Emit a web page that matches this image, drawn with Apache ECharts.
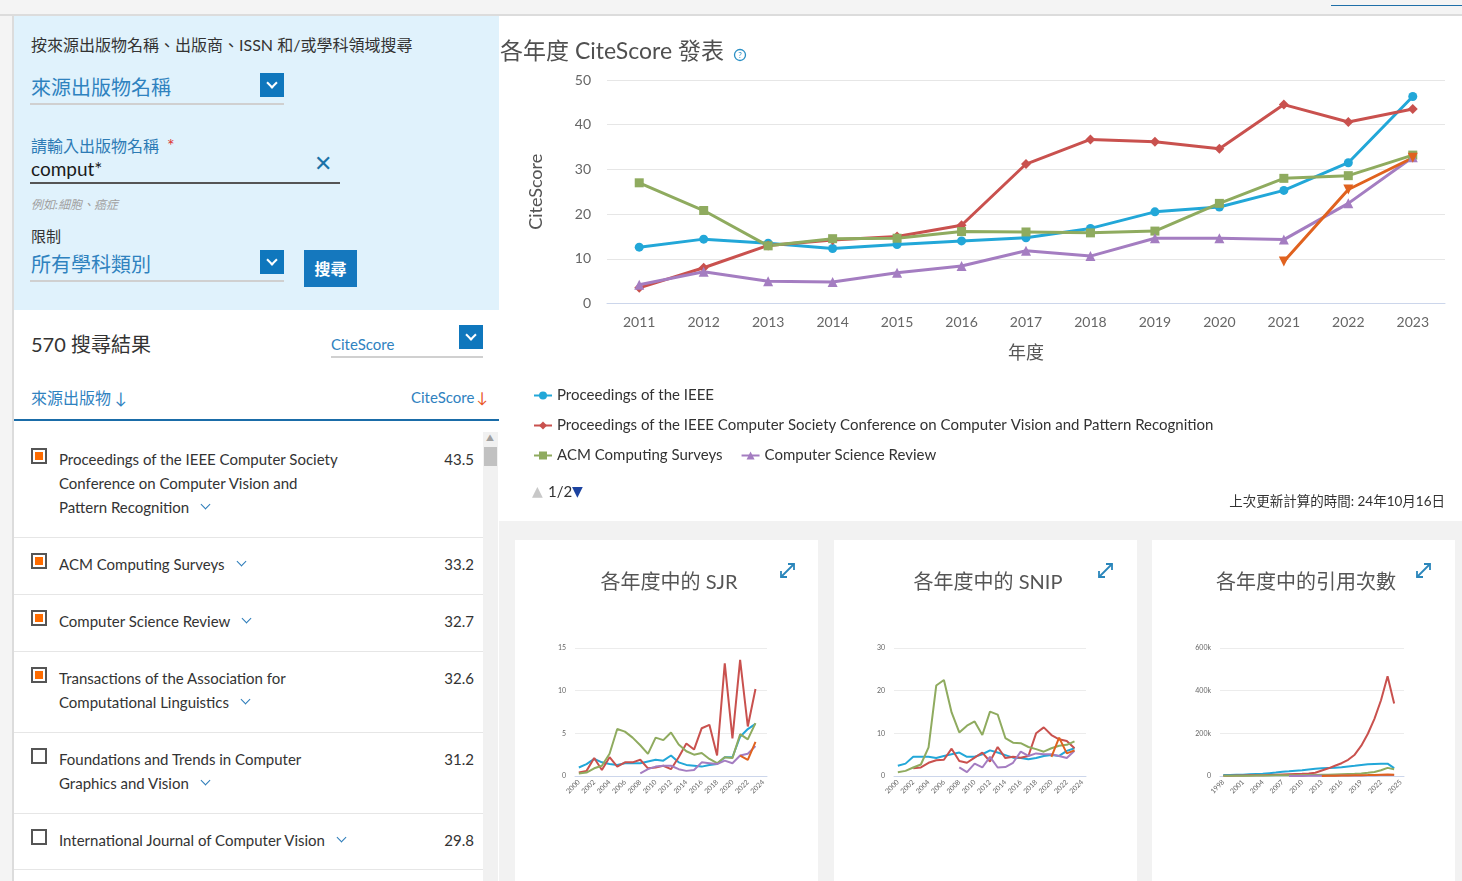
<!DOCTYPE html>
<html>
<head>
<meta charset="utf-8">
<script src="https://cdn.jsdelivr.net/npm/echarts/dist/echarts.min.js"></script>
<style>
  body { margin:0; width:1462px; height:881px; overflow:hidden; position:relative;
         background:#f2f2f2; font-family: Lato, "Noto Sans CJK TC", sans-serif; color:#333; }
  .abs { position:absolute; }
  .topbar { left:0; top:0; width:1462px; height:14px; background:#f4f4f4; border-bottom:2px solid #dcdcdc; }
  .topline { left:1331px; top:5px; width:131px; height:1px; background:#1f6fa8; }
  .leftstrip { left:0; top:16px; width:12px; height:865px; background:#f4f4f4; border-right:2px solid #dcdcdc; }
  .search { left:14px; top:16px; width:485px; height:294px; background:#e0f2fc; }
  .list { left:14px; top:310px; width:485px; height:571px; background:#fff; }
  .main { left:499px; top:16px; width:963px; height:505px; background:#fff; }
  .card { top:540px; width:303px; height:341px; background:#fff; }
  .blue { color:#2f82bf; }
  .ddbtn { width:24px; height:24px; background:#0f77bd; }
  .ddbtn::after { content:""; position:absolute; left:8px; top:6px; width:6px; height:6px;
                  border-right:2px solid #fff; border-bottom:2px solid #fff; transform:rotate(45deg); }
  .uline { height:2px; background:#d0d0d0; }
  .row { left:59px; font-size:15px; line-height:24px; color:#333; white-space:nowrap; }
  .val { left:400px; width:74px; text-align:right; font-size:15px; line-height:24px; color:#333; }
  .cb { left:31px; width:12px; height:12px; border:2px solid #555; background:#fff; }
  .cb.on::after { content:""; position:absolute; left:2px; top:2px; width:8px; height:8px; background:#ff6c00; }
  .chev { display:inline-block; width:6px; height:6px; border-right:1.5px solid #2b7bb9; border-bottom:1.5px solid #2b7bb9;
          transform:rotate(45deg); margin-left:13px; position:relative; top:-5px; }
  .div { left:14px; width:469px; height:1px; background:#e6e6e6; }
  #chart { position:absolute; left:0; top:0; width:1462px; height:881px; z-index:5; pointer-events:none; }
</style>
</head>
<body>
<div class="abs topbar"></div>
<div class="abs topline"></div>
<div class="abs leftstrip"></div>
<div class="abs search"></div>
<div class="abs list"></div>
<div class="abs main"></div>
<div class="abs card" style="left:515px"></div>
<div class="abs card" style="left:834px"></div>
<div class="abs card" style="left:1152px"></div>

<!-- search form -->
<div class="abs" style="left:31px;top:32px;font-size:16px;color:#333">按來源出版物名稱、出版商、ISSN 和/或學科領域搜尋</div>
<div class="abs blue" style="left:31px;top:72px;font-size:20px">來源出版物名稱</div>
<div class="abs ddbtn" style="left:260px;top:73px"></div>
<div class="abs uline" style="left:30px;top:103px;width:254px"></div>
<div class="abs" style="left:31px;top:133px;font-size:16px;color:#2d7bb5">請輸入出版物名稱 <span style="color:#d33;margin-left:4px;font-size:18px">*</span></div>
<div class="abs" style="left:31px;top:157px;font-size:19px;color:#1a1a1a">comput*</div>
<div class="abs" style="left:314px;top:149px;font-size:22px;color:#1a73a8">✕</div>
<div class="abs" style="left:30px;top:182px;width:310px;height:2px;background:#555"></div>
<div class="abs" style="left:31px;top:195px;font-size:12px;color:#a0a0a0;font-style:italic">例如:細胞、癌症</div>
<div class="abs" style="left:31px;top:225px;font-size:15px;color:#333">限制</div>
<div class="abs blue" style="left:31px;top:249px;font-size:20px">所有學科類別</div>
<div class="abs ddbtn" style="left:260px;top:250px"></div>
<div class="abs uline" style="left:30px;top:280px;width:254px"></div>
<div class="abs" style="left:304px;top:250px;width:53px;height:37px;background:#1578be;color:#fff;font-size:16px;font-weight:bold;text-align:center;line-height:37px">搜尋</div>

<!-- result list -->
<div class="abs" style="left:31px;top:329px;font-size:20px;color:#333">570 搜尋結果</div>
<div class="abs blue" style="left:331px;top:335px;font-size:15px">CiteScore</div>
<div class="abs ddbtn" style="left:459px;top:325px"></div>
<div class="abs uline" style="left:331px;top:356px;width:152px"></div>
<div class="abs blue" style="left:31px;top:385px;font-size:16px">來源出版物 <span>↓</span></div>
<div class="abs blue" style="left:411px;top:388px;font-size:15px">CiteScore<span style="color:#e9541e;margin-left:2px">↓</span></div>
<div class="abs" style="left:14px;top:419px;width:485px;height:2px;background:#1a6ca8"></div>
<div class="abs" style="left:483px;top:432px;width:15px;height:449px;background:#f1f1f1"></div>
<div class="abs" style="left:484px;top:447px;width:13px;height:19px;background:#c1c1c1"></div>
<div class="abs" style="left:486px;top:432px;font-size:8px;color:#a0a0a0">▲</div>

<div class="abs cb on" style="top:448px"></div>
<div class="abs row" style="top:447px">Proceedings of the IEEE Computer Society<br>Conference on Computer Vision and<br>Pattern Recognition<span class="chev"></span></div>
<div class="abs val" style="top:447px">43.5</div>
<div class="abs div" style="top:537px"></div>

<div class="abs cb on" style="top:553px"></div>
<div class="abs row" style="top:552px">ACM Computing Surveys<span class="chev"></span></div>
<div class="abs val" style="top:552px">33.2</div>
<div class="abs div" style="top:594px"></div>

<div class="abs cb on" style="top:610px"></div>
<div class="abs row" style="top:609px">Computer Science Review<span class="chev"></span></div>
<div class="abs val" style="top:609px">32.7</div>
<div class="abs div" style="top:651px"></div>

<div class="abs cb on" style="top:667px"></div>
<div class="abs row" style="top:666px">Transactions of the Association for<br>Computational Linguistics<span class="chev"></span></div>
<div class="abs val" style="top:666px">32.6</div>
<div class="abs div" style="top:732px"></div>

<div class="abs cb" style="top:748px"></div>
<div class="abs row" style="top:747px">Foundations and Trends in Computer<br>Graphics and Vision<span class="chev"></span></div>
<div class="abs val" style="top:747px">31.2</div>
<div class="abs div" style="top:813px"></div>

<div class="abs cb" style="top:829px"></div>
<div class="abs row" style="top:828px">International Journal of Computer Vision<span class="chev"></span></div>
<div class="abs val" style="top:828px">29.8</div>
<div class="abs div" style="top:869px"></div>

<!-- expand icons -->
<svg class="abs" style="left:779px;top:562px" width="17" height="17"><g stroke="#2a86bb" stroke-width="1.8" fill="none"><path d="M2 15 L15 2"/><path d="M2 9 L2 15 L8 15"/><path d="M9 2 L15 2 L15 8"/></g></svg>
<svg class="abs" style="left:1097px;top:562px" width="17" height="17"><g stroke="#2a86bb" stroke-width="1.8" fill="none"><path d="M2 15 L15 2"/><path d="M2 9 L2 15 L8 15"/><path d="M9 2 L15 2 L15 8"/></g></svg>
<svg class="abs" style="left:1415px;top:562px" width="17" height="17"><g stroke="#2a86bb" stroke-width="1.8" fill="none"><path d="M2 15 L15 2"/><path d="M2 9 L2 15 L8 15"/><path d="M9 2 L15 2 L15 8"/></g></svg>

<div id="chart"></div>
<script>
// CiteScore by year
var years = ['2011','2012','2013','2014','2015','2016','2017','2018','2019','2020','2021','2022','2023'];
var ieeeCS = [12.6, 14.4, 13.5, 12.3, 13.2, 14.0, 14.7, 16.8, 20.5, 21.6, 25.3, 31.5, 46.3];
var cvprCS = [3.5, 8.0, 13.0, 14.2, 15.0, 17.5, 31.2, 36.7, 36.2, 34.6, 44.5, 40.6, 43.5];
var acmCS  = [27.0, 20.8, 12.9, 14.5, 14.6, 16.1, 16.0, 15.8, 16.2, 22.4, 28.0, 28.6, 33.2];
var csrCS  = [4.2, 7.1, 5.0, 4.8, 6.9, 8.4, 11.8, 10.6, 14.6, 14.6, 14.3, 22.4, 32.7];
var taclCS = [null, null, null, null, null, null, null, null, null, null, 9.4, 25.5, 32.6];

// SJR by year (2000-2023, axis to 2024)
var sjrYears = ['2000','2001','2002','2003','2004','2005','2006','2007','2008','2009','2010','2011','2012',
                '2013','2014','2015','2016','2017','2018','2019','2020','2021','2022','2023','2024'];
var ieeeSJR = [1.0,1.4,2.0,1.6,1.4,1.3,1.5,1.5,1.5,1.7,1.9,1.8,2.4,1.6,1.3,1.2,1.1,1.3,1.4,2.2,2.2,4.6,5.5,6.1];
var cvprSJR = [0.4,0.6,2.1,0.7,2.2,1.1,1.6,1.6,1.9,0.9,1.0,1.2,0.8,2.2,3.8,3.1,5.6,6.0,2.4,13.2,4.4,13.6,5.8,10.2];
var acmSJR  = [0.3,0.4,0.9,1.2,2.6,5.5,5.2,4.5,3.6,2.6,4.5,4.2,5.1,3.7,2.9,2.5,2.7,2.0,1.5,2.2,2.1,4.9,4.3,6.2];
var csrSJR  = [null,null,null,null,null,null,null,null,0.3,0.8,1.1,1.2,1.2,0.8,0.6,0.7,1.6,1.5,1.4,1.8,1.5,2.4,2.6,3.5];
var taclSJR = [null,null,null,null,null,null,null,null,null,null,null,null,null,null,null,null,null,null,null,null,null,2.4,1.9,4.0];

// SNIP by year
var ieeeSNIP = [2.4,2.9,4.5,4.5,4.5,4.2,4.7,5.1,5.5,4.5,4.5,5.1,6.0,5.5,4.9,4.3,4.2,3.9,4.2,4.7,4.9,4.7,5.9,6.5];
var cvprSNIP = [null,null,1.8,2.0,3.1,3.7,3.8,6.4,3.5,3.1,4.3,5.5,3.4,6.8,4.2,4.5,4.3,4.7,10.0,11.4,9.6,8.6,8.2,6.5];
var acmSNIP  = [0.9,1.2,2.0,2.7,6.7,21.2,22.5,14.9,10.2,11.8,12.8,9.6,15.1,14.4,8.9,7.8,7.7,6.8,6.3,5.7,6.5,7.1,7.3,8.1];
var csrSNIP  = [null,null,null,null,null,null,null,null,2.0,0.9,2.9,2.0,4.5,2.0,2.1,3.1,5.7,4.7,5.3,5.1,5.1,4.7,4.2,5.9];
var taclSNIP = [null,null,null,null,null,null,null,null,null,null,null,null,null,null,null,null,null,null,null,null,4.5,9.0,5.3,6.0];

// citations by year (1998-2024, axis to 2025)
var citYears = ['1998','1999','2000','2001','2002','2003','2004','2005','2006','2007','2008','2009','2010','2011',
                '2012','2013','2014','2015','2016','2017','2018','2019','2020','2021','2022','2023','2024','2025'];
var ieeeCit = [5000,5000,6000,6000,8000,9000,10000,13000,16000,20000,22000,25000,27000,31000,34000,36000,38000,39000,41000,45000,48000,52000,55000,56000,57000,58000,37000];
var cvprCit = [1000,1000,2000,2000,3000,3000,4000,5000,6000,7000,8000,9000,10000,12000,15000,26000,36000,48000,60000,76000,100000,142000,198000,268000,355000,468000,340000];
var acmCit  = [1000,1000,1000,1000,1000,2000,2000,2000,3000,3000,3000,4000,4000,5000,5000,6000,6000,7000,8000,9000,10000,12000,15000,19000,27000,38000,32000];
var csrCit  = [null,null,null,null,null,null,null,null,null,null,200,300,500,600,800,1000,1200,1500,1800,2000,2400,2800,3200,3800,4500,5200,5000];
var taclCit = [null,null,null,null,null,null,null,null,null,null,null,null,null,null,null,500,1000,1500,2000,2500,3000,3500,4200,5000,5800,6500,5500];

var names = ['Proceedings of the IEEE',
             'Proceedings of the IEEE Computer Society Conference on Computer Vision and Pattern Recognition',
             'ACM Computing Surveys',
             'Computer Science Review',
             'Transactions of the Association for Computational Linguistics'];
var colors = ['#22a7d8', '#c9514e', '#8fab5f', '#a47dc1', '#e0621f'];

var FONT = 'Lato, "Noto Sans CJK TC", sans-serif';

function mainLine(i, data, symbol, size, rotate) {
  return {
    name: names[i], type: 'line', xAxisIndex: 0, yAxisIndex: 0, data: data,
    symbol: symbol, symbolSize: size, symbolRotate: rotate || 0,
    lineStyle: { width: 3, color: colors[i] }, itemStyle: { color: colors[i] }
  };
}
function smallLine(i, data, idx) {
  return {
    name: names[i], type: 'line', xAxisIndex: idx, yAxisIndex: idx, data: data,
    showSymbol: false, symbol: 'none', lineStyle: { width: 2, color: colors[i] }, itemStyle: { color: colors[i] }
  };
}
function smallX(idx, data, interval) {
  return {
    type: 'category', gridIndex: idx, data: data, boundaryGap: true,
    axisLine: { lineStyle: { color: '#ccd6eb' } }, axisTick: { show: false },
    axisLabel: { rotate: 45, fontSize: 7, color: '#666', interval: interval, margin: 5, fontFamily: FONT }
  };
}
function smallY(idx, max, interval, fmt) {
  return {
    type: 'value', gridIndex: idx, min: 0, max: max, interval: interval,
    splitLine: { lineStyle: { color: '#ececec' } },
    axisLabel: { fontSize: 7, color: '#666', margin: 9, fontFamily: FONT, formatter: fmt }
  };
}

var chart = echarts.init(document.getElementById('chart'), null, { renderer: 'canvas' });
var legendBase = { orient: 'horizontal', itemWidth: 18, itemHeight: 10, padding: 0,
                   textStyle: { fontSize: 15, color: '#333', fontFamily: FONT } };

var option = {
  animation: false,
  backgroundColor: 'transparent',
  textStyle: { fontFamily: FONT },
  title: [
    { text: '各年度 CiteScore 發表', left: 500, top: 40, padding: 0, textStyle: { fontSize: 23, fontWeight: 'normal', color: '#505050', fontFamily: FONT } },
    { text: '各年度中的 SJR', left: 664, top: 568, textAlign: 'center', textStyle: { fontSize: 20, fontWeight: 'normal', color: '#555', fontFamily: FONT } },
    { text: '各年度中的 SNIP', left: 983, top: 568, textAlign: 'center', textStyle: { fontSize: 20, fontWeight: 'normal', color: '#555', fontFamily: FONT } },
    { text: '各年度中的引用次數', left: 1301, top: 568, textAlign: 'center', textStyle: { fontSize: 20, fontWeight: 'normal', color: '#555', fontFamily: FONT } }
  ],
  legend: [
    Object.assign({ left: 533, top: 388, data: [names[0]] }, legendBase),
    Object.assign({ left: 533, top: 418, data: [names[1]] }, legendBase),
    Object.assign({ left: 533, top: 448, itemGap: 18, data: [names[2], names[3]] }, legendBase)
  ],
  grid: [
    { left: 607, top: 80, width: 838, height: 223.5 },
    { left: 575, top: 648, width: 192, height: 128 },
    { left: 894, top: 648, width: 192, height: 128 },
    { left: 1220, top: 648, width: 184, height: 128 }
  ],
  xAxis: [
    {
      type: 'category', gridIndex: 0, data: years, boundaryGap: true,
      axisLine: { lineStyle: { color: '#ccd6eb' } }, axisTick: { show: false },
      axisLabel: { fontSize: 14, color: '#666', margin: 12, fontFamily: FONT },
      name: '年度', nameLocation: 'middle', nameGap: 41,
      nameTextStyle: { fontSize: 18, color: '#555', fontFamily: FONT }
    },
    smallX(1, sjrYears, 1),
    smallX(2, sjrYears, 1),
    smallX(3, citYears, 2)
  ],
  yAxis: [
    {
      type: 'value', gridIndex: 0, min: 0, max: 50, interval: 10,
      splitLine: { lineStyle: { color: '#e6e6e6' } },
      axisLabel: { fontSize: 14, color: '#666', margin: 16, fontFamily: FONT },
      name: 'CiteScore', nameLocation: 'middle', nameGap: 62, nameRotate: 90,
      nameTextStyle: { fontSize: 18, color: '#555', fontFamily: FONT }
    },
    smallY(1, 15, 5),
    smallY(2, 30, 10),
    smallY(3, 600000, 200000, function (v) { return v === 0 ? '0' : (v / 1000) + 'k'; })
  ],
  graphic: [
    { type: 'circle', shape: { cx: 740, cy: 55, r: 5.5 }, style: { fill: 'none', stroke: '#2a8fc4', lineWidth: 1.3 } },
    { type: 'text', x: 740, y: 55, style: { text: '?', fontSize: 8, fill: '#2a8fc4', align: 'center', verticalAlign: 'middle', fontFamily: FONT } },
    { type: 'text', x: 532, y: 492, style: { text: '▲', fontSize: 14, fill: '#c8c8c8', verticalAlign: 'middle', fontFamily: 'DejaVu Sans' } },
    { type: 'text', x: 548, y: 492, style: { text: '1/2', fontSize: 15, fill: '#333', verticalAlign: 'middle', fontFamily: FONT } },
    { type: 'text', x: 572, y: 492, style: { text: '▼', fontSize: 14, fill: '#1c43a0', verticalAlign: 'middle', fontFamily: 'DejaVu Sans' } },
    { type: 'text', x: 1445, y: 502, style: { text: '上次更新計算的時間: 24年10月16日', fontSize: 13.5, fill: '#333', align: 'right', verticalAlign: 'middle', fontFamily: FONT } }
  ],
  series: [
    mainLine(0, ieeeCS, 'circle', 9),
    mainLine(1, cvprCS, 'diamond', 10),
    mainLine(2, acmCS, 'rect', 9),
    mainLine(3, csrCS, 'triangle', 10),
    mainLine(4, taclCS, 'triangle', 10, 180),

    smallLine(0, ieeeSJR, 1), smallLine(1, cvprSJR, 1), smallLine(2, acmSJR, 1), smallLine(3, csrSJR, 1), smallLine(4, taclSJR, 1),
    smallLine(0, ieeeSNIP, 2), smallLine(1, cvprSNIP, 2), smallLine(2, acmSNIP, 2), smallLine(3, csrSNIP, 2), smallLine(4, taclSNIP, 2),
    smallLine(0, ieeeCit, 3), smallLine(1, cvprCit, 3), smallLine(2, acmCit, 3), smallLine(3, csrCit, 3), smallLine(4, taclCit, 3)
  ]
};
chart.setOption(option);
</script>
</body>
</html>
